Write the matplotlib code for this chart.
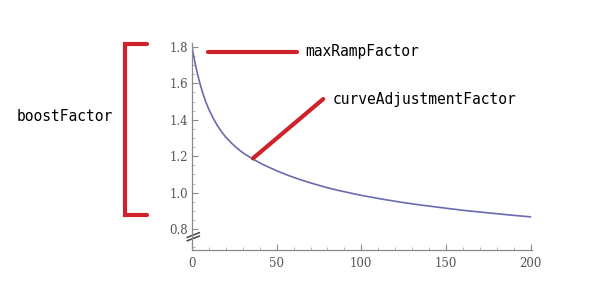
import numpy as np
import matplotlib
matplotlib.use('Agg')
from matplotlib import pyplot
from matplotlib.ticker import MultipleLocator

# curve
x_vals = [0, 1, 2, 3, 4, 5, 6.5, 8, 10, 12.5, 15, 17.5, 20, 23, 26.5, 30, 36, 42, 50, 57, 64,
		72, 80, 86, 93, 100, 110, 123, 135, 147, 160, 176, 188, 200]
y_vals = [1.800, 1.750, 1.704, 1.662, 1.624, 1.589, 1.543, 1.502, 1.456, 1.409, 1.368, 1.334,
		1.304, 1.275, 1.245, 1.219, 1.184, 1.154, 1.120, 1.094, 1.071, 1.048, 1.027, 1.013,
		0.999, 0.985, 0.968, 0.948, 0.932, 0.918, 0.903, 0.888, 0.877, 0.867]

x_ticks = [0, 50, 100, 150, 200]
y_ticks = [0.8, 1.0, 1.2, 1.4, 1.6, 1.8]

labels = ['boostFactor', 'maxRampFactor', 'curveAdjustmentFactor']

red = '#cf222b'
gray = '#8a8a8a'

fig = pyplot.figure(figsize=(5.97, 3.01), dpi=100)
ax = fig.add_axes([0.3216, 0.1694, 0.570, 0.688])

ax.plot(x_vals, y_vals, color='#6a6aae', lw=1.2, solid_capstyle='round', solid_joinstyle='round')
ax.set_xlim(0, 201)
ax.set_ylim(0.685, 1.822)

ax.spines['top'].set_visible(False)
ax.spines['right'].set_visible(False)
for s in ['left', 'bottom']:
	ax.spines[s].set_color(gray)
	ax.spines[s].set_linewidth(0.9)

ax.set_xticks(x_ticks)
ax.set_yticks(y_ticks)
ax.set_yticklabels(['{:.1f}'.format(v) for v in y_ticks])
ax.xaxis.set_minor_locator(MultipleLocator(10))
ax.yaxis.set_minor_locator(MultipleLocator(0.05))
ax.tick_params(which='major', direction='in', length=4, width=0.8, color=gray,
			labelcolor='#555555', labelsize=8.5, labelfontfamily='DejaVu Serif')
ax.tick_params(which='minor', direction='in', length=2.2, width=0.6, color='#aaaaaa')
ax.tick_params(axis='x', pad=5)
ax.tick_params(axis='y', pad=3)

# axis break marks on the y axis
for dy in [0.0, -0.0164]:
	ax.plot([-0.014, 0.0215], [0.061 + dy, 0.0836 + dy], transform=ax.transAxes,
			color='#444444', lw=1.1, clip_on=False)

# red annotations
ax.plot([9.5, 62], [1.773, 1.773], color=red, lw=3, solid_capstyle='round', clip_on=False)
ax.text(67, 1.776, labels[1], fontsize=10.5, family='DejaVu Sans Mono', va='center', ha='left')
ax.plot([36, 77.5], [1.188, 1.514], color=red, lw=3, solid_capstyle='round', clip_on=False)
ax.text(83, 1.51, labels[2], fontsize=10.5, family='DejaVu Sans Mono', va='center', ha='left')

# bracket on the left
bx = [147 / 597., 125 / 597., 125 / 597., 147 / 597.]
by = [1 - 44 / 301., 1 - 44 / 301., 1 - 215 / 301., 1 - 215 / 301.]
fig.add_artist(matplotlib.lines.Line2D(bx, by, transform=fig.transFigure, color=red, lw=3,
			solid_capstyle='round', solid_joinstyle='miter'))
fig.text(65 / 597., 1 - 116 / 301., labels[0], fontsize=10.5, family='DejaVu Sans Mono',
		ha='center', va='center')

pyplot.savefig('out.png', dpi=100)
pyplot.close()
